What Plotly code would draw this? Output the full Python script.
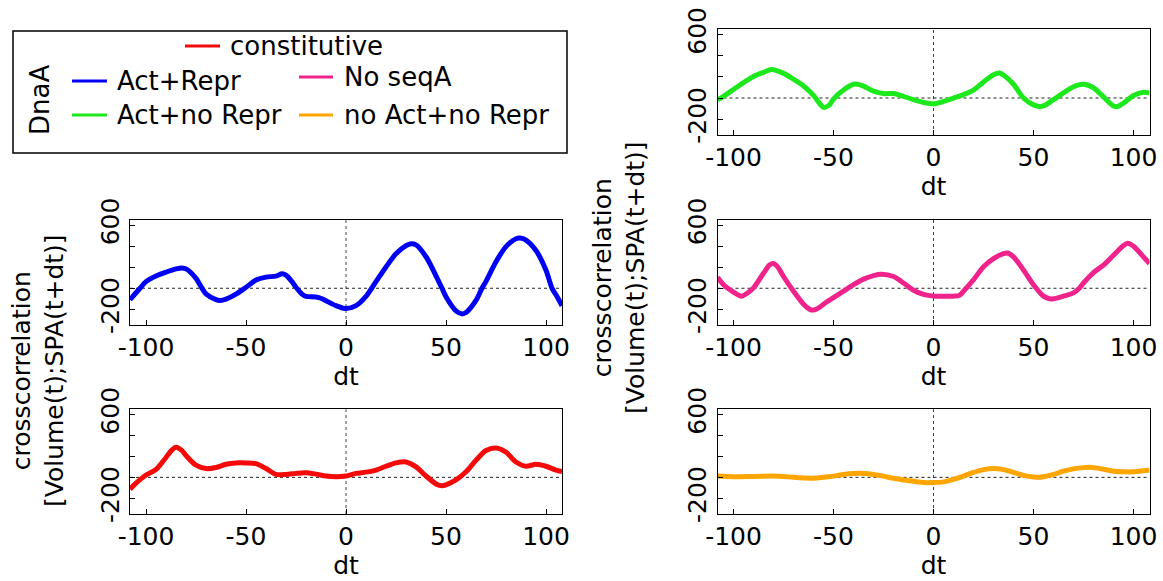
import plotly.graph_objects as go

# ---------------- data ----------------
dt_green = [-108,-105,-100,-95,-90,-85,-81,-75,-70,-65,-60,-57,-55,-52,-50,-45,-40,-38,-35,-30,-25,-20,-15,-10,-5,0,5,10,15,20,25,30,33,35,40,45,50,53,55,60,65,70,75,80,85,90,92,95,100,105,108]
cc_green = [-16,16,81,146,204,243,269,233,178,113,25,-50,-88,-65,-10,75,130,130,113,65,42,42,16,-16,-42,-55,-32,0,32,75,152,220,237,217,130,0,-65,-81,-75,-16,49,107,130,97,10,-75,-81,-49,23,55,49]

dt_blue = [-108,-103,-100,-95,-90,-85,-82,-80,-75,-72,-70,-65,-63,-60,-55,-50,-45,-40,-35,-32,-30,-27,-25,-22,-20,-15,-12,-10,-5,0,5,10,15,20,25,30,32,35,40,45,48,50,55,58,60,65,68,70,75,80,85,87,90,95,100,103,105,108]
cc_blue = [-109,0,63,116,153,184,194,184,94,0,-53,-109,-116,-103,-56,9,78,106,116,138,125,63,9,-56,-78,-84,-100,-119,-166,-194,-166,-78,63,203,328,406,422,413,300,119,0,-81,-216,-244,-231,-116,0,66,253,397,472,478,459,359,172,0,-63,-166]

dt_pink = [-108,-105,-100,-96,-93,-90,-85,-82,-80,-78,-75,-70,-65,-62,-60,-57,-55,-50,-45,-40,-35,-30,-26,-20,-15,-10,-5,0,5,10,13,15,20,25,30,35,37,40,45,50,55,58,60,65,70,73,75,80,85,90,95,97,100,105,108]
cc_pink = [106,34,-37,-75,-45,3,143,221,236,205,112,-28,-152,-199,-208,-183,-152,-90,-28,34,87,121,134,112,50,-19,-59,-75,-75,-75,-68,-28,81,205,283,330,336,299,174,34,-75,-100,-100,-75,-44,3,50,149,221,314,407,429,401,299,236]

dt_red = [-108,-105,-100,-95,-90,-87,-85,-82,-80,-75,-70,-65,-60,-55,-50,-45,-40,-35,-30,-25,-20,-15,-10,-5,0,5,10,15,20,25,30,35,40,45,48,50,55,60,65,70,75,80,85,90,95,100,105,108]
cc_red = [-113,-56,22,75,190,262,288,256,209,116,84,94,125,138,138,131,84,28,28,38,44,31,13,6,13,38,50,69,106,138,147,100,13,-63,-81,-72,-25,53,163,256,281,241,147,106,125,106,69,56]

dt_orange = [-108,-100,-90,-80,-75,-70,-60,-55,-50,-45,-40,-35,-30,-25,-20,-15,-10,-5,0,5,10,15,20,25,30,35,40,45,50,53,55,60,65,70,75,78,80,85,90,95,100,105,108]
cc_orange = [12,6,9,12,9,0,-9,0,12,28,37,37,28,12,-9,-25,-37,-50,-50,-43,-19,12,47,74,84,74,47,19,3,0,6,28,59,81,93,96,93,78,59,53,53,62,68]

series_names = ["Act+no Repr", "Act+Repr", "No seqA", "constitutive", "no Act+no Repr"]
series_colors = ["#1CE81C", "#0000F5", "#F0238C", "#F50A0A", "#FFA500"]

x_ticks = [-100, -50, 0, 50, 100]
x_ticktext = ["-100", "-50", "0", "50", "100"]
y_ticks = [-200, 0, 200, 400, 600]
y_ticktext = ["-200", "", "", "", "600"]
x_title = "dt"
y_title = "crosscorrelation<br>[Volume(t);SPA(t+dt)]"
legend_title = "DnaA"

# ---------------- layout helpers ----------------
W, H = 1163, 581
FONT = "DejaVu Sans"

def px(x):
    return x / W

def py(y):
    return 1 - y / H

left_dom = [px(130), px(562)]
right_dom = [px(717.5), px(1149.5)]
row1 = [py(135), py(29.3)]
row2 = [py(325), py(220)]
row3 = [py(514), py(409.3)]

panels = [
    (dt_green, cc_green, right_dom, row1),
    (dt_blue, cc_blue, left_dom, row2),
    (dt_pink, cc_pink, right_dom, row2),
    (dt_red, cc_red, left_dom, row3),
    (dt_orange, cc_orange, right_dom, row3),
]

fig = go.Figure()
layout = dict(
    template="none",
    width=W, height=H,
    margin=dict(l=0, r=0, t=0, b=0, pad=0),
    paper_bgcolor="white", plot_bgcolor="white",
    showlegend=False,
    font=dict(family=FONT, size=25, color="black"),
)
shapes = []
annotations = []

for i, (xs, ys, xd, yd) in enumerate(panels):
    n = i + 1
    sfx = "" if n == 1 else str(n)
    fig.add_trace(go.Scatter(
        x=xs, y=ys, mode="lines", name=series_names[i],
        line=dict(color=series_colors[i], width=5, shape="spline", smoothing=0.8),
        xaxis="x" + sfx, yaxis="y" + sfx,
    ))
    layout["xaxis" + sfx] = dict(
        domain=xd, anchor="y" + sfx, range=[-108, 108], automargin=False,
        tickvals=x_ticks, ticktext=x_ticktext, ticks="inside", ticklen=5, tickcolor="black",
        showline=True, mirror=True, linecolor="black", linewidth=1.2,
        showgrid=False, zeroline=False,
        tickfont=dict(family=FONT, size=25),
        title=dict(text=x_title, font=dict(family=FONT, size=25), standoff=0),
    )
    layout["yaxis" + sfx] = dict(
        domain=yd, anchor="x" + sfx, range=[-350, 650], automargin=False,
        tickvals=y_ticks, ticktext=y_ticktext, tickangle=-90,
        ticks="inside", ticklen=5, tickcolor="black",
        showline=True, mirror=True, linecolor="black", linewidth=1.2,
        showgrid=False, zeroline=False,
        tickfont=dict(family=FONT, size=25),
    )
    shapes.append(dict(type="line", xref="x" + sfx, yref="y" + sfx + " domain",
                       x0=0, x1=0, y0=0, y1=1, layer="below",
                       line=dict(color="#444", width=1, dash="dot")))
    shapes.append(dict(type="line", xref="x" + sfx + " domain", yref="y" + sfx,
                       x0=0, x1=1, y0=0, y1=0, layer="below",
                       line=dict(color="#222", width=1, dash="dot")))

# y-axis titles (shared per column)
annotations.append(dict(text=y_title, xref="paper", yref="paper", x=px(38), y=py(371),
                        xanchor="center", yanchor="middle", textangle=-90, showarrow=False,
                        font=dict(family=FONT, size=25)))
annotations.append(dict(text=y_title, xref="paper", yref="paper", x=px(619), y=py(278),
                        xanchor="center", yanchor="middle", textangle=-90, showarrow=False,
                        font=dict(family=FONT, size=25)))

# legend box
shapes.append(dict(type="rect", xref="paper", yref="paper",
                   x0=px(13), x1=px(567), y0=py(153), y1=py(31),
                   line=dict(color="black", width=1.5), fillcolor="white", layer="above"))
annotations.append(dict(text=legend_title, xref="paper", yref="paper", x=px(40), y=py(100),
                        xanchor="center", yanchor="middle", textangle=-90, showarrow=False,
                        font=dict(family=FONT, size=26)))
legend_items = [
    # (series index, line x0, line x1, y, text x)
    (3, 185, 220, 46, 228),
    (1, 72, 107, 81, 115),
    (2, 299, 333, 77, 342),
    (0, 72, 107, 115, 115),
    (4, 299, 333, 115, 342),
]
for idx, lx0, lx1, ly, tx in legend_items:
    shapes.append(dict(type="line", xref="paper", yref="paper",
                       x0=px(lx0), x1=px(lx1), y0=py(ly), y1=py(ly), layer="above",
                       line=dict(color=series_colors[idx], width=3)))
    annotations.append(dict(text=series_names[idx], xref="paper", yref="paper",
                            x=px(tx), y=py(ly), xanchor="left", yanchor="middle",
                            showarrow=False, font=dict(family=FONT, size=26)))

layout["shapes"] = shapes
layout["annotations"] = annotations
fig.update_layout(**layout)
fig.write_html("out.html", config={"displayModeBar": False},
               post_script="document.body.style.margin='0px';document.body.style.overflow='hidden';")
